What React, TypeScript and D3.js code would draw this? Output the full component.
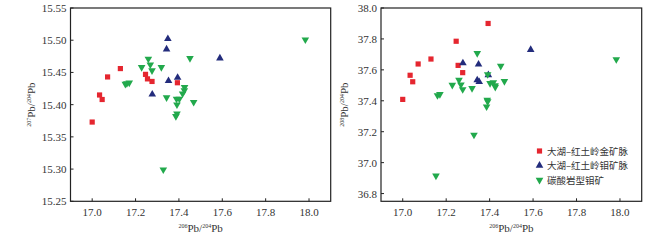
import React from "react";
import * as d3 from "d3";

// 206Pb/204Pb, 207Pb/204Pb, 208Pb/204Pb for each group
const goldX = [17.0, 17.034, 17.046, 17.071, 17.13, 17.246, 17.255, 17.276, 17.393];
const gold207 = [15.373, 15.415, 15.408, 15.443, 15.456, 15.447, 15.44, 15.436, 15.434];
const gold208 = [37.409, 37.565, 37.523, 37.638, 37.67, 37.785, 37.629, 37.582, 37.9];

const moX = [17.349, 17.343, 17.352, 17.394, 17.277, 17.589];
const mo207 = [15.502, 15.486, 15.437, 15.442, 15.416, 15.472];
const mo208 = [37.636, 37.534, 37.523, 37.567, 37.644, 37.73];

const carbX = [17.983, 17.259, 17.268, 17.228, 17.276, 17.319, 17.451, 17.16, 17.171, 17.153, 17.343, 17.389, 17.402, 17.391, 17.426, 17.425, 17.417, 17.468, 17.391, 17.386, 17.328];
const carb207 = [15.501, 15.471, 15.462, 15.458, 15.453, 15.458, 15.472, 15.433, 15.434, 15.432, 15.411, 15.409, 15.409, 15.4, 15.427, 15.422, 15.417, 15.404, 15.386, 15.382, 15.299];
const carb208 = [37.668, 37.534, 37.504, 37.502, 37.474, 37.481, 37.625, 37.435, 37.442, 36.915, 37.707, 37.405, 37.513, 37.395, 37.489, 37.5, 37.519, 37.526, 37.571, 37.362, 37.179];

const xTicks = [17.0, 17.2, 17.4, 17.6, 17.8, 18.0];
const y207Ticks = [15.25, 15.3, 15.35, 15.4, 15.45, 15.5, 15.55];
const y208Ticks = [36.8, 37.0, 37.2, 37.4, 37.6, 37.8, 38.0];

const legendNames = ["大湖–红土岭金矿脉", "大湖–红土岭钼矿脉", "碳酸岩型钼矿"];

const RED = "#e5262f";
const BLUE = "#232c7c";
const GREEN = "#22a94c";

const serif = "'Liberation Serif', 'Times New Roman', serif";

const squarePath = d3.symbol(d3.symbolSquare, 27)()!;
const triPath = d3.symbol(d3.symbolTriangle, 25)()!;

function Marker({ kind, x, y }: { kind: number; x: number; y: number }) {
  if (kind === 0) return <path d={squarePath} transform={`translate(${x},${y})`} fill={RED} />;
  if (kind === 1) return <path d={triPath} transform={`translate(${x},${y})`} fill={BLUE} />;
  return <path d={triPath} transform={`translate(${x},${y}) rotate(180)`} fill={GREEN} />;
}

function PbLabel({ a, b }: { a: string; b: string }) {
  return (
    <>
      <tspan fontSize="6" dy="-4">{a}</tspan>
      <tspan dy="4">Pb/</tspan>
      <tspan fontSize="6" dy="-4">{b}</tspan>
      <tspan dy="4">Pb</tspan>
    </>
  );
}

function Panel({ left, right, yDomain, yTicks, yFmt, ys, yNum, titleX, legend }: any) {
  const top = 8;
  const bottom = 201.3;
  const x = d3.scaleLinear().domain([16.9, 18.1]).range([left, right]);
  const y = d3.scaleLinear().domain(yDomain).range([bottom, top]);
  const groups = [
    { xs: goldX, vs: ys[0] },
    { xs: moX, vs: ys[1] },
    { xs: carbX, vs: ys[2] },
  ];
  return (
    <g>
      <rect x={left} y={top} width={right - left} height={bottom - top} fill="none" stroke="#222" strokeWidth={1.2} />
      {xTicks.map((t) => (
        <g key={"x" + t}>
          <line x1={x(t)} x2={x(t)} y1={bottom} y2={bottom - 3} stroke="#222" />
          <text x={x(t)} y={bottom + 15} textAnchor="middle" fontSize="11" fill="#333" fontFamily={serif}>
            {t.toFixed(1)}
          </text>
        </g>
      ))}
      {yTicks.map((t: number) => (
        <g key={"y" + t}>
          <line x1={left} x2={left + 3} y1={y(t)} y2={y(t)} stroke="#222" />
          <text x={left - 4} y={y(t) + 4} textAnchor="end" fontSize="11" fill="#333" fontFamily={serif}>
            {t.toFixed(yFmt)}
          </text>
        </g>
      ))}
      {groups.map((g, gi) =>
        g.xs.map((v, i) => <Marker key={gi + "-" + i} kind={gi} x={x(v)} y={y(g.vs[i])} />)
      )}
      <text x={(left + right) / 2} y={232} textAnchor="middle" fontSize="11" fill="#333" fontFamily={serif}>
        <PbLabel a="206" b="204" />
      </text>
      <text
        transform={`translate(${titleX},${(top + bottom) / 2}) rotate(-90)`}
        textAnchor="middle"
        fontSize="11"
        fill="#333"
        fontFamily={serif}
      >
        <PbLabel a={yNum} b="204" />
      </text>
      {legend &&
        legendNames.map((n, i) => (
          <g key={n}>
            <Marker kind={i} x={539.5} y={151 + i * 14.5} />
            <text x={547} y={151 + i * 14.5 + 3.5} fontSize="9.5" fill="#333" fontFamily="'Noto Sans CJK SC', sans-serif">
              {n}
            </text>
          </g>
        ))}
    </g>
  );
}

export default function App() {
  return (
    <svg width={659} height={240} style={{ position: "absolute", left: 0, top: 0, background: "#fff" }}>
      <Panel
        left={70.5}
        right={330.7}
        yDomain={[15.25, 15.55]}
        yTicks={y207Ticks}
        yFmt={2}
        ys={[gold207, mo207, carb207]}
        yNum="207"
        titleX={35}
        legend={false}
      />
      <Panel
        left={381}
        right={641.7}
        yDomain={[36.75, 38.0]}
        yTicks={y208Ticks}
        yFmt={1}
        ys={[gold208, mo208, carb208]}
        yNum="208"
        titleX={348}
        legend={true}
      />
    </svg>
  );
}
